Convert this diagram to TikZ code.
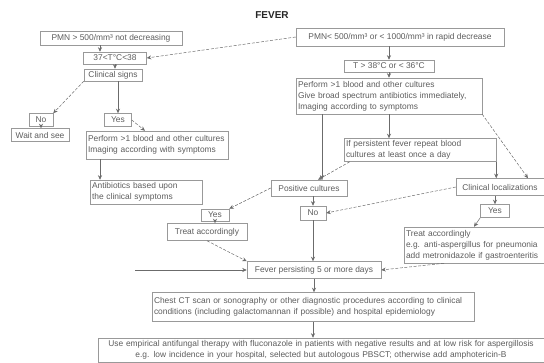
\documentclass[tikz,border=0pt]{standalone}
\usepackage{fontspec}
\setmainfont{Liberation Sans}
\usetikzlibrary{arrows.meta,calc}
\begin{document}
\begin{tikzpicture}[x=1pt,y=-1pt,
  every node/.style={font=\fontsize{8.4}{11}\selectfont, text=black!64},
  box/.style={draw=black!40, line width=0.5pt, inner sep=2pt, align=center},
  tbox/.style={box, align=left, text width=#1},
  cbox/.style={box, align=center, text width=#1},
  link/.style={draw=black!58, line width=0.5pt, -{Stealth[length=4.5pt,width=4pt]}},
  dlink/.style={link, dash pattern=on 3pt off 1.6pt}]
\useasboundingbox (0,0) rectangle (544,362);

% title
\node[font=\fontsize{10}{12}\selectfont\bfseries, text=black!85] (title) at (272,15) {FEVER};

% top entries
\node[box, minimum width=142pt, minimum height=14pt] (pmnA) at (111,38) {PMN > 500/mm³ not decreasing};
\node[box, minimum width=208pt, minimum height=18pt] (pmnB) at (400,37) {PMN< 500/mm³ or < 1000/mm³ in rapid decrease};

% left branch
\node[box, minimum width=63pt, minimum height=12pt] (t37) at (115,58) {37<T°C<38};
\node[box, minimum width=58pt, minimum height=12pt] (clin) at (113,75) {Clinical signs};
\node[box, minimum width=24pt, minimum height=13pt] (noL) at (41,120) {No};
\node[box, minimum width=27pt, minimum height=13pt] (yesL) at (118,120) {Yes};
\node[box, minimum width=58pt, minimum height=13pt] (wait) at (40,135) {Wait and see};
\node[tbox=138pt, minimum height=28pt] (perfL) at (157,145)
  {Perform >1 blood and other cultures\\Imaging according with symptoms};
\node[tbox=108pt, minimum height=24pt] (antib) at (146,192)
  {Antibiotics based upon\\the clinical symptoms};

% right branch
\node[box, minimum width=90pt, minimum height=12pt] (t38) at (389,66) {T > 38°C or < 36°C};
\node[tbox=182pt, minimum height=36pt] (perfR) at (389,96)
  {Perform >1 blood and other cultures\\Give broad spectrum antibiotics immediately,\\Imaging according to symptoms};
\node[tbox=148pt, minimum height=23pt] (persist) at (420,150)
  {If persistent fever repeat blood\\cultures at least once a day};
\node[box, minimum width=76pt, minimum height=16pt] (posc) at (309,188) {Positive cultures};
\node[box, minimum width=88pt, minimum height=17pt] (clinloc) at (500,187) {Clinical localizations};
\node[box, minimum width=26pt, minimum height=14pt] (noR) at (313,213) {No};
\node[box, minimum width=29pt, minimum height=13pt] (yesR) at (495,211) {Yes};
\node[box, minimum width=28pt, minimum height=12pt] (yesL2) at (215,215) {Yes};
\node[box, minimum width=80pt, minimum height=17pt] (treat1) at (207,232) {Treat accordingly};
\node[tbox=136pt, minimum height=36pt] (treat2) at (474,245)
  {Treat accordingly\\e.g. anti-aspergillus for pneumonia\\add metronidazole if gastroenteritis};

% common tail
\node[box, minimum width=134pt, minimum height=17pt] (pers5) at (314,270) {Fever persisting 5 or more days};
\node[tbox=318pt, minimum height=29pt] (chest) at (313,307)
  {Chest CT scan or sonography or other diagnostic procedures according to clinical\\conditions (including galactomannan if possible) and hospital epidemiology};
\node[cbox=442pt, minimum height=24pt] (empir) at (321,350)
  {Use empirical antifungal therapy with fluconazole in patients with negative results and at low risk for aspergillosis\\e.g. low incidence in your hospital, selected but autologous PBSCT; otherwise add amphotericin-B};

\coordinate (abend) at (135,270);

% connectors, left branch
\draw[link] ([xshift=-11pt]pmnA.south) -- ([xshift=-15pt]t37.north);
\draw[dlink] (pmnB.west) -- (t37.east);
\draw[link] (t37.south) -- (t37.south |- clin.north);
\draw[dlink] (clin.south west) -- (noL.north east);
\draw[link] (yesL.north |- clin.south) -- (yesL.north);
\draw[link] (noL.south) -- (noL.south |- wait.north);
\draw[dlink] (yesL.east) -- ($(perfL.north)+(-12,0)$);
\draw[link] ($(perfL.south)+(-57,0)$) -- ($(antib.north)+(-46,0)$);

% connectors, right branch
\draw[link] (t38.north |- pmnB.south) -- (t38.north);
\draw[link] (t38.south) -- (t38.south |- perfR.north);
\draw[link] (perfR.south) -- (perfR.south |- persist.north);
\draw[link] ($(perfR.south)+(-67,0)$) -- ($(posc.north)+(13,0)$);
\draw[dlink] (perfR.south east) -- ($(clinloc.north)+(28,0)$);
\draw[dlink] ($(persist.south west)+(6,0)$) -- ($(posc.north)+(9,0)$);
\draw[link] (persist.south east) -- (persist.south east |- clinloc.north);
\draw[dlink] (posc.west) -- (yesL2.north east);
\draw[link] (noR.north |- posc.south) -- (noR.north);
\draw[dlink] (clinloc.west) -- (noR.east);
\draw[link] (yesR.north |- clinloc.south) -- (yesR.north);
\draw[link] (yesL2.south) -- (yesL2.south |- treat1.north);
\draw[link] (yesR.south west) -- (treat2.north);

% into the common tail
\draw[dlink] (treat1.south) -- (pers5.north west);
\draw[link] (abend) -- (pers5.west);
\draw[link] (noR.south) -- (noR.south |- pers5.north);
\draw[dlink] ($(treat2.south)+(-30,0)$) -- (pers5.east);
\draw[link] (pers5.south) -- (pers5.south |- chest.north);
\draw[link] (chest.south) -- (chest.south |- empir.north);
\end{tikzpicture}
\end{document}
